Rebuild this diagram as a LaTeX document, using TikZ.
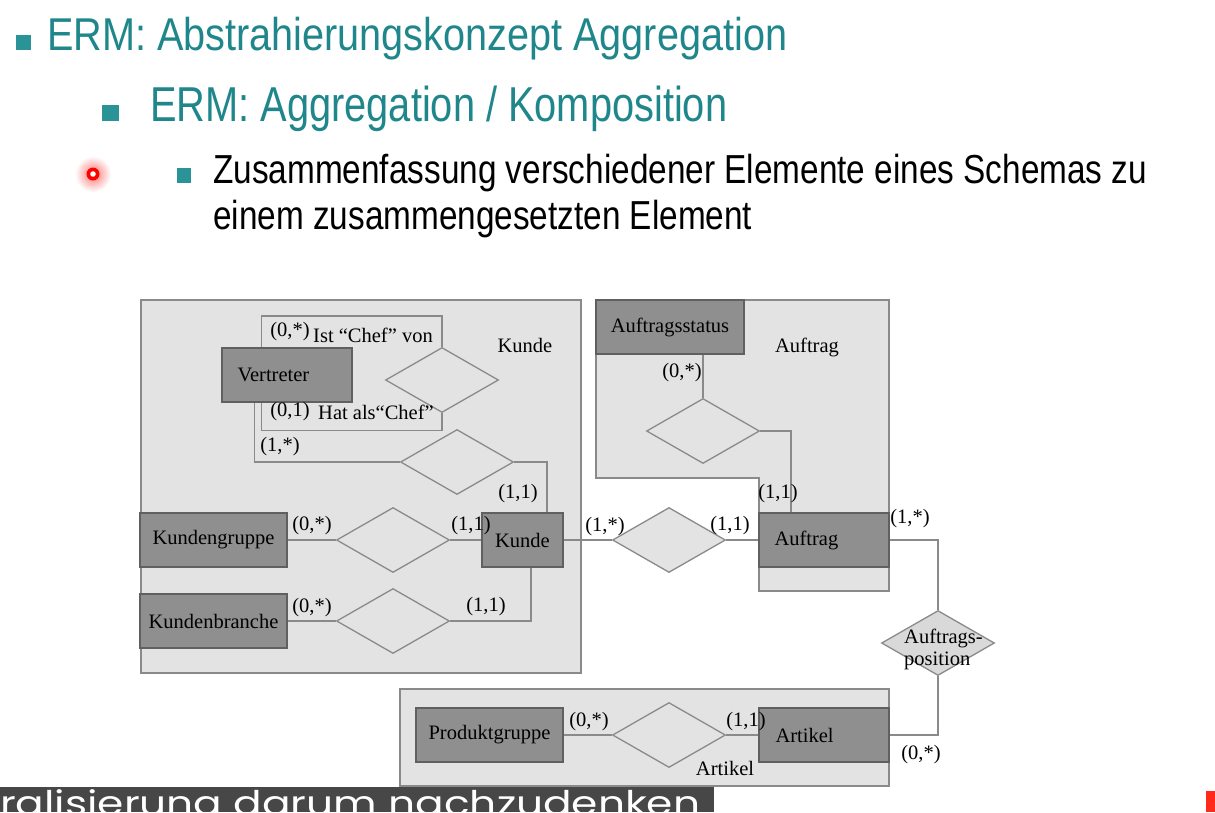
\documentclass[tikz,border=0pt]{standalone}
\usepackage{fontspec}
\usepackage{graphicx}
\usetikzlibrary{shapes.geometric}
\setmainfont{Liberation Sans}
\newfontfamily\tnr{Liberation Serif}
\newfontfamily\arialf{Liberation Sans}
\newfontfamily\subf{Poppins}
\definecolor{clfill}{HTML}{E3E3E3}
\definecolor{cldraw}{HTML}{8A8A8A}
\definecolor{entfill}{HTML}{8F8F8F}
\definecolor{entdraw}{HTML}{606060}
\definecolor{connc}{HTML}{8A8A8A}
\definecolor{tealtxt}{HTML}{1F878C}
\definecolor{tealbul}{HTML}{2A9398}
\definecolor{bartxt}{HTML}{474747}
\definecolor{redmark}{HTML}{FF2A1A}
\tikzset{
  x=1pt, y=-1pt,
  cluster/.style={fill=clfill, draw=cldraw, line width=1.3pt},
  ent/.style={rectangle, fill=entfill, draw=entdraw, line width=1.3pt, inner sep=0pt, minimum height=54pt, font=\tnr\fontsize{20.5}{23}\selectfont},
  rel/.style={diamond, fill=clfill, draw=cldraw, line width=1.3pt, inner sep=0pt, minimum width=113pt, minimum height=65pt},
  conn/.style={draw=connc, line width=1.3pt},
  lbl/.style={inner sep=0pt, font=\tnr\fontsize{20.5}{23}\selectfont},
  bul/.style={fill=tealbul}
}
\begin{document}
\begin{tikzpicture}
\useasboundingbox (0,0) rectangle (1215,812);
\fill[white] (0,0) rectangle (1215,812);

% ---------- header text ----------
\fill[bul] (16,35) rectangle (31,50);
\node[anchor=base west, inner sep=0pt, text=tealtxt] (t1) at (47,50)
  {\resizebox{740pt}{\height}{\arialf\fontsize{46}{50}\selectfont ERM: Abstrahierungskonzept Aggregation}};
\fill[bul] (102,105) rectangle (119,121);
\node[anchor=base west, inner sep=0pt, text=tealtxt] (t2) at (150,121)
  {\resizebox{577pt}{\height}{\arialf\fontsize{49}{53}\selectfont ERM: Aggregation / Komposition}};
\fill[bul] (177,168) rectangle (191,183);
\node[anchor=base west, inner sep=0pt, text=black] (t3) at (213,183)
  {\resizebox{934pt}{\height}{\arialf\fontsize{40.5}{45}\selectfont Zusammenfassung verschiedener Elemente eines Schemas zu}};
\node[anchor=base west, inner sep=0pt, text=black] (t4) at (213,229)
  {\resizebox{539pt}{\height}{\arialf\fontsize{40.5}{45}\selectfont einem zusammengesetzten Element}};

% red pointer
\shade[inner color=red!55, outer color=white] (93,174) circle (18pt);
\fill[red] (93,174) circle (6.5pt);
\fill[white] (93,174) circle (2.8pt);

% ---------- clusters ----------
\draw[cluster] (141,300) rectangle (581,673);
\draw[cluster] (596,300) -- (889,300) -- (889,591) -- (759,591) -- (759,478) -- (596,478) -- cycle;
\draw[cluster] (400,689) rectangle (889,786);

% ---------- relationships ----------
\node[rel] (dChef) at (442,380) {};
\node[rel] (dVK) at (457,462) {};
\node[rel] (dKG) at (393,540) {};
\node[rel] (dKB) at (393,621) {};
\node[rel] (dKA) at (669,540) {};
\node[rel] (dAS) at (703,431) {};
\node[rel, fill=clfill!90!gray] (dAP) at (938,643) {};
\node[rel] (dPA) at (669,735) {};

% ---------- entities ----------
\node[ent, minimum width=130pt] (vertreter) at (287,375) {};
\node[ent, minimum width=147pt] (kgruppe) at (213.5,540) {Kundengruppe};
\node[ent, minimum width=81pt] (kunde) at (522.5,540) {Kunde};
\node[ent, minimum width=147pt] (kbranche) at (213.5,621) {Kundenbranche};
\node[ent, minimum width=148pt] (astatus) at (670,327) {Auftragsstatus};
\node[ent, minimum width=130pt] (auftrag) at (824,540) {};
\node[ent, minimum width=147pt] (pgruppe) at (489.5,735) {Produktgruppe};
\node[ent, minimum width=130pt] (artikel) at (824,735) {};
\node[lbl, anchor=west] (vertreterT) at ([xshift=16pt]vertreter.west) {Vertreter};
\node[lbl, anchor=west] (auftragT) at ([xshift=16pt]auftrag.west) {Auftrag};
\node[lbl, anchor=west] (artikelT) at ([xshift=17pt]artikel.west) {Artikel};

% ---------- connectors ----------
\draw[conn] ([xshift=40pt]vertreter.north west) |- ([yshift=31pt]dChef.north) -- (dChef.north);
\draw[conn] ([xshift=40pt]vertreter.south west) |- ([yshift=-17pt]dChef.south) -- (dChef.south);
\draw[conn] ([xshift=33pt]vertreter.south west) |- (dVK.west);
\draw[conn] (dVK.east) -| ([xshift=24.5pt]kunde.north);
\draw[conn] (kgruppe.east) -- (dKG.west);
\draw[conn] (dKG.east) -- (kunde.west);
\draw[conn] (kbranche.east) -- (dKB.west);
\draw[conn] (dKB.east) -| ([xshift=8.5pt]kunde.south);
\draw[conn] (kunde.east) -- (dKA.west);
\draw[conn] (dKA.east) -- (auftrag.west);
\draw[conn] (astatus.south -| dAS.north) -- (dAS.north);
\draw[conn] (dAS.east) -| ([xshift=-33pt]auftrag.north);
\draw[conn] (auftrag.east) -| (dAP.north);
\draw[conn] (dAP.south) |- (artikel.east);
\draw[conn] (pgruppe.east) -- (dPA.west);
\draw[conn] (dPA.east) -- (artikel.west);

% ---------- labels ----------
\node[lbl] (cKunde) at (525,345) {Kunde};
\node[lbl] (cAuftrag) at (807,347) {Auftrag};
\node[lbl] (cArtikel) at (725,768) {Artikel};
\node[lbl] (l1) at (290,332) {(0,*)};
\node[lbl, anchor=west] (l2) at (313,335) {Ist “Chef” von};
\node[lbl] (l3) at (290,412) {(0,1)};
\node[lbl, anchor=west] (l4) at (318,412) {Hat als“Chef”};
\node[lbl] (l5) at (280,447) {(1,*)};
\node[lbl] (l6) at (518,494) {(1,1)};
\node[lbl] (l7) at (312,526) {(0,*)};
\node[lbl] (l8) at (471,526) {(1,1)};
\node[lbl] (l9) at (312,608) {(0,*)};
\node[lbl] (l10) at (486,607) {(1,1)};
\node[lbl] (l11) at (605,527) {(1,*)};
\node[lbl] (l12) at (730,526) {(1,1)};
\node[lbl] (l13) at (778,494) {(1,1)};
\node[lbl] (l14) at (682,373) {(0,*)};
\node[lbl] (l15) at (910,519) {(1,*)};
\node[lbl] (l16) at (921,755) {(0,*)};
\node[lbl] (l17) at (589,722) {(0,*)};
\node[lbl] (l18) at (746,722) {(1,1)};
\node[lbl, anchor=west, align=left, font=\tnr\fontsize{20.5}{22}\selectfont] (apT) at (904,649) {Auftrags-\\position};

% ---------- subtitle bar & red mark ----------
\fill[bartxt] (0,787) rectangle (714,812);
\begin{scope}
\clip (0,787) rectangle (714,812);
\node[anchor=base west, inner sep=0pt, text=white] (sub) at (0,815)
  {\resizebox{700pt}{\height}{\subf\fontsize{34}{38}\selectfont ralisierung darum nachzudenken}};
\end{scope}
\fill[redmark] (1206,791) rectangle (1215,812);
\end{tikzpicture}
\end{document}
